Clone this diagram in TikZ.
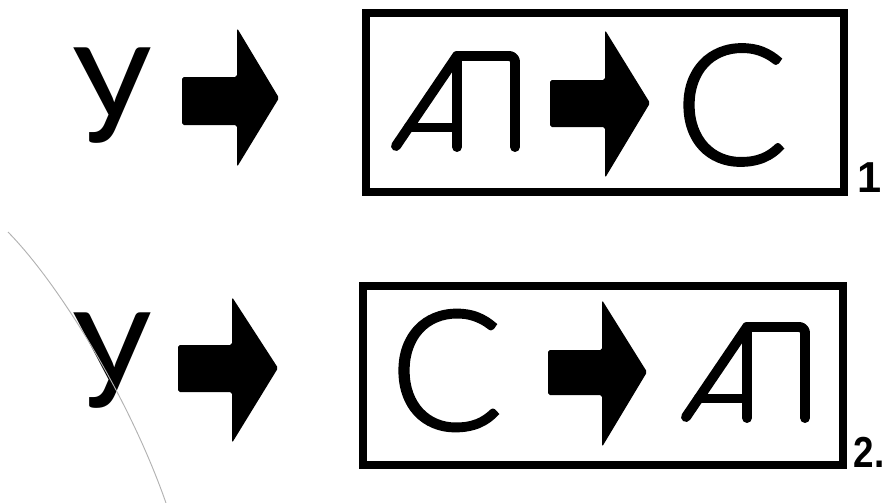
\documentclass[tikz,border=0pt]{standalone}
\usepackage{fontspec}
\setmainfont{Lato}
\newfontfamily\sideletters{Carlito}
\newfontfamily\indexfont{Liberation Sans}
\IfFontExistsTF{Lato Light}{\newfontfamily\thinletters[FakeBold=1.5]{Lato Light}}{\newfontfamily\thinletters{Lato}}

\tikzset{
	frame/.style={shape=rectangle, draw, line width=7.5pt},
	letter/.style={anchor=center, inner sep=0pt, font=\sideletters\fontsize{126}{126}\selectfont},
	bigletter/.style={anchor=center, inner sep=0pt, font=\thinletters\fontsize{143}{143}\selectfont},
	index/.style={inner sep=0pt, font=\indexfont\bfseries\fontsize{37}{37}\selectfont},
	blockarrow/.style={fill=black, rounded corners=1.5pt},
	apsign/.pic={
		\draw[line width=8.5pt, line cap=round, line join=round] (-61,-1) -- (0,-91) [rounded corners=5pt] -- (58,-91) -- (58,0);
		\draw[line width=8.5pt, line cap=round] (0,-91) -- (0,0);
		\draw[line width=8.5pt, line cap=round] (-48.5,-19.5) -- (0,-19.5);
	}
}

\begin{document}
\begin{tikzpicture}[x=0.03cm, y=-0.03cm]
	\useasboundingbox (0,0) rectangle (885,503);
	% Row 1:
	\node[letter] (u1) at (112.5,95.5) {У};
	\fill[blockarrow] (182,77) -- (237,77) -- (237,28) -- (279,98) -- (237,167) -- (237,125) -- (182,125) -- cycle;
	\node[frame, minimum width=14.34cm, minimum height=5.37cm] (box1) at (605,102.5) {};
	\pic (ap1) at (457,147) {apsign};
	\fill[blockarrow] (550,80) -- (605,80) -- (605,30) -- (650,103) -- (605,178) -- (605,127) -- (550,127) -- cycle;
	\node[bigletter] (c1) at (731.5,105) {С};
	\node[index, anchor=center] (n1) at (869.5,177.5) {1};
	% Row 2:
	\node[letter] (u2) at (112.5,361) {У};
	\fill[blockarrow] (178,345) -- (232,345) -- (232,297) -- (278,368) -- (232,443) -- (232,392) -- (178,392) -- cycle;
	\node[frame, minimum width=14.4cm, minimum height=5.37cm] (box2) at (603,375.5) {};
	\node[bigletter] (c2) at (446.5,370.5) {С};
	\fill[blockarrow] (548,350) -- (602,350) -- (602,300) -- (647,372) -- (602,447) -- (602,395) -- (548,395) -- cycle;
	\pic (ap2) at (747,418) {apsign};
	\node[index, anchor=east] (n2) at (884.5,452.5) {\scalebox{0.85}[1]{2.}};
	% scan line
	\draw[gray!60, line width=0.8pt] (8,232) .. controls (60,285) and (130,400) .. (166,503);
\end{tikzpicture}
\end{document}
